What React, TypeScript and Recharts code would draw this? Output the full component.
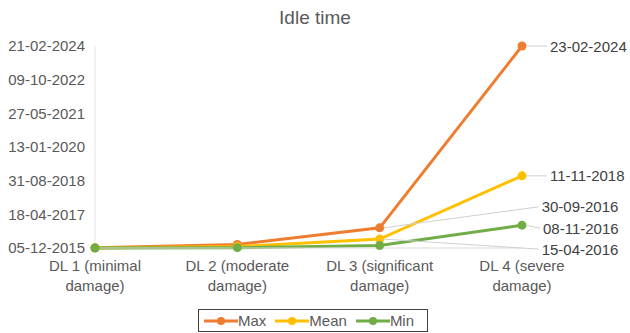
import React from "react";
import { LineChart, Line, XAxis, YAxis, Legend, LabelList } from "recharts";

const categories = [
  "DL 1 (minimal damage)",
  "DL 2 (moderate damage)",
  "DL 3 (significant damage)",
  "DL 4 (severe damage)",
];
const maxDates = ["07-12-2015", "26-01-2016", "30-09-2016", "23-02-2024"];
const meanDates = ["06-12-2015", "27-12-2015", "15-04-2016", "11-11-2018"];
const minDates = ["05-12-2015", "10-12-2015", "11-01-2016", "08-11-2016"];
const yTickLabels = [
  "05-12-2015",
  "18-04-2017",
  "31-08-2018",
  "13-01-2020",
  "27-05-2021",
  "09-10-2022",
  "21-02-2024",
];

const seriesNames = ["Max", "Mean", "Min"];
const seriesColors = ["#ED7D31", "#FFC000", "#70AD47"];

const toDay = (s: string) => {
  const [d, m, y] = s.split("-").map(Number);
  return Date.UTC(y, m - 1, d) / 86400000;
};
const fmt = (v: number) => {
  const dt = new Date(Math.round(v) * 86400000);
  const dd = String(dt.getUTCDate()).padStart(2, "0");
  const mm = String(dt.getUTCMonth() + 1).padStart(2, "0");
  return `${dd}-${mm}-${dt.getUTCFullYear()}`;
};

const yTicks = yTickLabels.map(toDay);
const data = categories.map((c, i) => ({
  name: c,
  Max: toDay(maxDates[i]),
  Mean: toDay(meanDates[i]),
  Min: toDay(minDates[i]),
}));

const FONT = "'Liberation Sans', Arial, sans-serif";
const AXIS_COLOR = "#595959";
const LABEL_COLOR = "#404040";
const LEADER = "#d0d0d0";

// label placement offsets (relative to the point) per series per index
const labelOffsets: Record<string, Record<number, { dx: number; dy: number }>> = {
  Max: { 3: { dx: 28, dy: 0 }, 2: { dx: 162, dy: -21 } },
  Mean: { 3: { dx: 28, dy: 0 }, 2: { dx: 162, dy: 10 } },
  Min: { 3: { dx: 21, dy: 3 } },
};

const makeLabel = (series: string) => (props: any) => {
  const { x, y, index, value } = props;
  const off = labelOffsets[series][index];
  if (!off) return null;
  const lx = x + off.dx;
  const ly = y + off.dy;
  return (
    <g>
      <line x1={x + 4} y1={y} x2={lx - 3} y2={ly} stroke={LEADER} strokeWidth={1} />
      <text
        x={lx}
        y={ly}
        dominantBaseline="central"
        fill={LABEL_COLOR}
        fontSize={15}
        fontFamily={FONT}
      >
        {fmt(value)}
      </text>
    </g>
  );
};

const XTick = (props: any) => {
  const { x, y, payload } = props;
  const s: string = payload.value;
  const i = s.lastIndexOf(" ");
  const l1 = s.slice(0, i);
  const l2 = s.slice(i + 1);
  return (
    <g>
      <text x={x} y={y + 9} textAnchor="middle" dominantBaseline="central" fill={AXIS_COLOR} fontSize={15} fontFamily={FONT}>
        {l1}
      </text>
      <text x={x} y={y + 29} textAnchor="middle" dominantBaseline="central" fill={AXIS_COLOR} fontSize={15} fontFamily={FONT}>
        {l2}
      </text>
    </g>
  );
};

const LegendContent = () => (
  <div
    style={{
      display: "flex",
      alignItems: "center",
      border: "1px solid #404040",
      height: 23,
      width: 230,
      boxSizing: "border-box",
      paddingLeft: 5,
      fontFamily: FONT,
      fontSize: 15,
      color: AXIS_COLOR,
    }}
  >
    {seriesNames.map((n, i) => (
      <div key={n} style={{ display: "flex", alignItems: "center", marginRight: i < 2 ? 9 : 0 }}>
        <svg width={34} height={12}>
          <line x1={0} y1={6} x2={34} y2={6} stroke={seriesColors[i]} strokeWidth={3} />
          <circle cx={17} cy={6} r={4} fill={seriesColors[i]} />
        </svg>
        <span style={{ lineHeight: "15px" }}>{n}</span>
      </div>
    ))}
  </div>
);

export default function App() {
  return (
    <div style={{ position: "absolute", left: 0, top: 0, width: 630, height: 333, background: "#fff" }}>
      <LineChart
        width={630}
        height={333}
        data={data}
        margin={{ top: 46, right: 108, left: 5, bottom: 0 }}
      >
        <text x={315} y={17} textAnchor="middle" dominantBaseline="central" fill={AXIS_COLOR} fontSize={19} fontFamily={FONT}>
          Idle time
        </text>
        <XAxis
          dataKey="name"
          interval={0}
          tick={<XTick />}
          tickLine={false}
          axisLine={{ stroke: "#d9d9d9" }}
          height={62}
        />
        <YAxis
          type="number"
          domain={[yTicks[0], yTicks[yTicks.length - 1]]}
          ticks={yTicks}
          tickFormatter={fmt}
          width={90}
          tickLine={false}
          tickSize={0}
          tickMargin={10}
          axisLine={{ stroke: "#e6e6e6" }}
          tick={{ fill: AXIS_COLOR, fontSize: 15, fontFamily: FONT }}
          interval={0}
        />
        <Legend
          content={<LegendContent />}
          wrapperStyle={{ position: "absolute", top: 309, left: 198, width: 230, height: 23 }}
        />
        {seriesNames.map((n, i) => (
          <Line
            key={n}
            dataKey={n}
            type="linear"
            stroke={seriesColors[i]}
            strokeWidth={3}
            dot={{ r: 4.5, fill: seriesColors[i], stroke: seriesColors[i], strokeWidth: 0 }}
            isAnimationActive={false}
          >
            <LabelList dataKey={n} content={makeLabel(n)} />
          </Line>
        ))}
      </LineChart>
    </div>
  );
}
